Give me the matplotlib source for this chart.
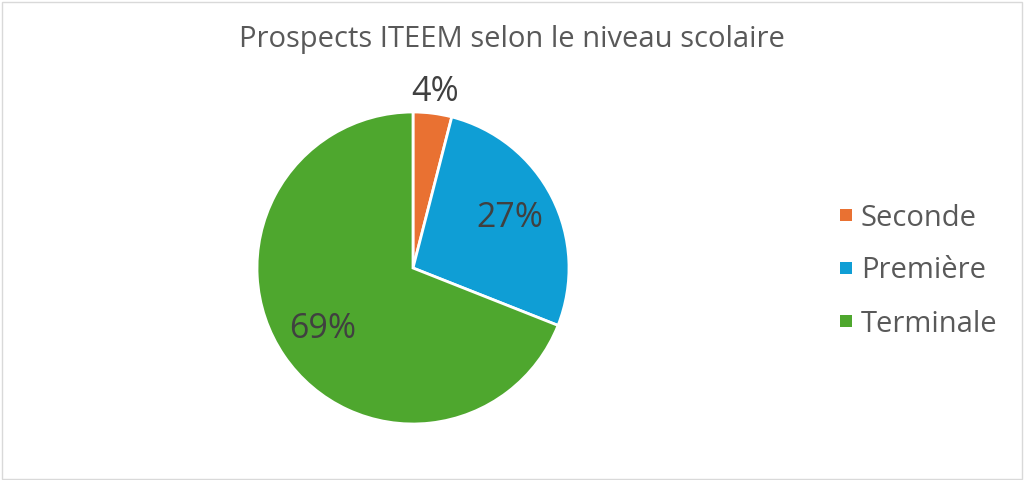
import numpy as np
import matplotlib.pyplot as plt
from matplotlib.patches import Rectangle

# Data
categories = ['Seconde', 'Première', 'Terminale']
shares = [4, 27, 69]
colors = ['#E97132', '#0F9ED5', '#4EA72E']
title = 'Prospects ITEEM selon le niveau scolaire'

plt.rcParams['font.family'] = ['Open Sans', 'DejaVu Sans']

W, H = 1024, 480
fig = plt.figure(figsize=(W / 100, H / 100), dpi=100)

# light frame round the chart
fig.patches.append(Rectangle((0.002, 0.003), 0.996, 0.993, transform=fig.transFigure,
                             fill=False, edgecolor='#D9D9D9', linewidth=1))

cx, cy, r = 413, 268, 156
ax = fig.add_axes([(cx - r) / W, (H - cy - r) / H, 2 * r / W, 2 * r / H])

wedges, _ = ax.pie(shares, colors=colors, startangle=90, counterclock=False,
                   radius=1, wedgeprops=dict(edgecolor='white', linewidth=2))
ax.set_xlim(-1, 1)
ax.set_ylim(-1, 1)
ax.axis('off')

# percentage labels
total = sum(shares)
start = 90.0
dists = [1.14, 0.70, 0.70]
for val, d in zip(shares, dists):
    span = val / total * 360
    mid = np.deg2rad(start - span / 2)
    ax.text(d * np.cos(mid), d * np.sin(mid), f'{val}%', ha='center', va='center',
            fontsize=24.5, color='#404040', clip_on=False)
    start -= span

fig.text(0.5, 1 - 40 / H, title, ha='center', va='center', fontsize=21, color='#595959')

# legend
for i, (lab, c) in enumerate(zip(categories, colors)):
    y = 215 + i * 53
    fig.patches.append(Rectangle(((840) / W, (H - y - 6) / H), 12 / W, 12 / H,
                                 transform=fig.transFigure, facecolor=c, edgecolor='none'))
    fig.text(861 / W, (H - y - 3) / H, lab, ha='left', va='center', fontsize=21, color='#595959')

fig.savefig('out.png', dpi=100)
